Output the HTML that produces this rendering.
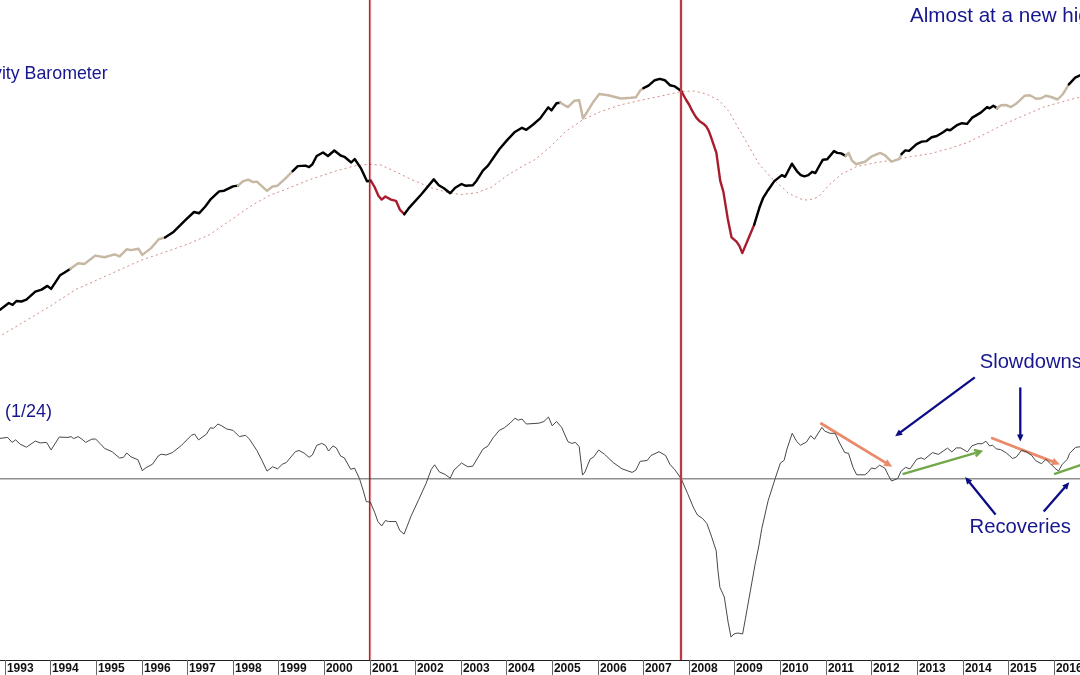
<!DOCTYPE html>
<html><head><meta charset="utf-8"><title>chart</title>
<style>
html,body{margin:0;padding:0;background:#fff;}
body{width:1080px;height:675px;position:relative;overflow:hidden;font-family:"Liberation Sans",sans-serif;}
.t{position:absolute;white-space:nowrap;color:#16168E;line-height:1;}
</style></head><body>
<svg width="1080" height="675" viewBox="0 0 1080 675" style="position:absolute;left:0;top:0">
<line x1="0" y1="478.7" x2="1080" y2="478.7" stroke="#909090" stroke-width="1.6"/>
<polyline points="-2.0,337.5 0.0,336.2 25.2,321.1 50.4,306.0 75.6,289.6 100.8,278.3 125.9,267.0 141.0,260.2 163.7,252.6 188.9,243.6 209.0,235.0 226.7,222.9 251.9,205.3 270.0,195.2 285.2,189.5 310.4,179.4 335.6,171.1 355.7,165.6 369.6,164.3 380.9,165.1 396.0,171.9 411.1,179.4 431.3,187.7 448.9,192.8 461.5,194.5 476.6,192.8 491.7,187.0 506.9,175.6 522.0,166.5 535.1,159.5 550.2,146.9 565.3,131.8 583.0,119.7 600.6,111.6 620.8,104.8 640.9,100.3 661.1,96.0 681.2,91.5 693.8,91.0 706.4,94.0 719.0,100.3 729.1,111.6 739.1,129.3 749.2,146.9 759.3,164.5 771.9,178.4 782.0,187.2 788.2,193.2 800.8,199.0 808.3,200.3 818.4,197.0 828.5,185.6 841.1,174.3 856.2,166.8 876.3,162.5 895.1,159.9 910.2,156.7 930.4,153.7 950.5,148.1 968.2,142.3 985.8,133.5 1005.9,123.4 1026.1,114.6 1043.7,107.1 1061.4,102.0 1081.0,96.8" fill="none" stroke="#C05E52" stroke-opacity="0.72" stroke-width="1" stroke-dasharray="2 3.1"/>
<line x1="820.4" y1="423.0" x2="886.2" y2="463.1" stroke="#EA8A6A" stroke-width="2.8"/><polygon points="892.2,466.7 883.4,465.7 887.3,459.3" fill="#EA8A6A"/>
<line x1="991.1" y1="437.8" x2="1053.5" y2="461.9" stroke="#EA8A6A" stroke-width="2.8"/><polygon points="1060.0,464.4 1051.2,465.0 1053.9,458.0" fill="#EA8A6A"/>
<polyline points="-1.0,438.4 0.0,438.4 7.6,437.4 12.1,442.4 15.6,439.9 20.2,444.2 26.4,447.2 35.3,441.1 40.3,442.9 46.6,442.4 51.1,449.9 59.2,437.1 68.0,437.4 71.0,436.6 73.6,438.6 78.1,436.6 81.9,439.1 85.6,442.4 91.9,439.1 95.7,439.1 100.8,444.2 104.5,448.4 112.1,451.7 119.6,458.0 123.4,457.5 126.7,453.0 131.0,456.8 138.0,459.8 142.3,470.6 146.1,467.6 152.4,464.3 158.2,456.0 161.2,454.2 166.2,455.0 172.5,452.5 181.4,445.4 191.4,435.3 194.7,434.1 198.5,439.9 206.5,434.1 210.3,427.8 213.6,428.3 217.9,424.0 221.7,425.8 226.7,429.0 233.0,430.3 239.3,436.6 245.6,435.3 249.4,439.1 256.9,450.5 262.0,460.5 267.0,471.1 272.6,466.8 277.6,468.8 282.2,464.3 286.4,462.5 295.3,451.7 299.0,450.5 304.1,453.0 309.1,457.3 312.4,455.0 316.7,445.4 321.7,443.4 325.5,445.4 328.5,451.0 333.0,445.9 336.3,447.9 340.6,456.0 344.4,458.0 350.7,469.3 354.5,468.1 359.5,478.7 363.3,490.8 366.3,501.6 370.3,502.1 374.6,512.2 377.9,521.5 381.7,526.0 385.4,520.5 388.5,521.5 396.0,521.5 399.8,530.6 404.1,534.1 411.1,516.0 418.7,499.6 426.2,483.2 431.3,469.3 434.6,464.8 439.3,471.9 445.1,474.4 450.2,478.2 454.0,470.1 461.5,463.0 467.8,466.8 472.8,466.1 482.9,449.2 488.0,445.9 493.0,437.9 499.3,430.3 504.3,427.8 510.6,422.7 514.9,418.2 518.2,420.2 522.0,419.0 526.3,424.0 538.9,423.2 543.9,421.5 548.5,417.0 552.2,425.8 556.5,421.5 561.6,427.3 567.9,441.6 571.6,443.4 575.4,442.4 579.2,446.7 582.5,475.1 585.0,471.9 590.0,459.3 593.8,456.8 598.6,450.0 604.4,454.2 613.2,462.5 622.0,468.8 632.1,472.4 635.9,470.1 640.2,461.3 647.2,460.5 651.0,455.5 659.0,451.7 665.6,455.5 669.9,464.3 674.9,469.8 681.2,478.7 687.5,493.3 693.8,508.4 697.6,515.2 702.6,518.5 706.9,523.5 711.4,536.1 716.2,550.8 717.9,570.1 719.9,587.4 724.3,597.0 728.1,622.1 731.0,637.1 733.9,634.0 737.8,633.0 742.6,634.0 745.5,618.2 750.3,591.2 755.1,564.3 759.0,545.0 761.8,528.5 768.1,500.8 775.2,478.5 780.4,463.0 784.1,460.4 787.0,448.9 792.2,433.3 796.7,441.5 800.4,445.2 806.3,442.2 810.7,435.6 814.4,439.3 821.9,427.4 824.8,431.1 830.0,433.3 835.2,433.3 839.6,443.0 844.8,452.6 848.5,453.3 853.0,467.4 856.7,474.8 864.8,474.8 867.8,472.6 871.5,467.9 875.2,468.9 879.6,465.2 884.8,468.1 888.5,475.6 891.5,481.0 897.7,478.5 901.1,471.1 905.6,467.4 910.0,468.9 916.7,459.3 921.1,457.8 924.4,459.3 932.6,452.6 938.5,454.4 947.4,448.1 951.9,451.9 956.3,447.9 960.7,447.9 967.4,451.9 971.9,445.9 977.8,443.7 982.2,443.7 985.9,441.2 989.6,445.9 992.6,445.2 996.3,448.9 1000.7,449.6 1005.9,452.6 1012.6,458.5 1016.3,457.0 1021.5,450.4 1026.7,451.9 1031.9,455.6 1035.6,460.7 1041.5,463.7 1045.9,459.3 1050.4,463.7 1054.8,468.1 1058.5,471.1 1062.2,464.4 1067.4,459.3 1069.6,453.3 1075.6,447.4 1081.0,446.6" fill="none" stroke="#484848" stroke-width="1" stroke-linejoin="round"/>
<polyline points="0.0,309.8 8.8,303.0 12.6,304.8 16.4,301.0 21.4,301.5 26.4,299.7 35.3,291.7 41.6,289.6 47.4,285.9 51.1,288.9 60.0,275.3 64.2,272.8 70.5,268.7" fill="none" stroke="#000000" stroke-width="2.45" stroke-linejoin="round" stroke-linecap="round"/>
<polyline points="70.5,268.7 78.1,263.2 84.4,264.0 95.2,255.6 104.5,257.2 114.6,254.4 119.6,256.4 126.7,249.3 131.0,250.1 138.5,248.8 142.3,254.9 151.1,248.1 158.7,239.3 165.0,237.5" fill="none" stroke="#C7B8A3" stroke-width="2.45" stroke-linejoin="round" stroke-linecap="round"/>
<polyline points="165.0,237.5 173.8,231.7 185.1,220.4 194.0,212.0 199.0,213.3 205.3,206.5 210.3,199.7 219.1,191.4 224.2,190.7 233.0,186.4 238.0,185.6" fill="none" stroke="#000000" stroke-width="2.45" stroke-linejoin="round" stroke-linecap="round"/>
<polyline points="238.0,185.6 243.0,181.3 248.1,179.6 253.1,182.1 256.9,181.6 267.0,190.8 272.6,186.5 277.6,185.7 285.2,178.7 292.7,171.1" fill="none" stroke="#C7B8A3" stroke-width="2.45" stroke-linejoin="round" stroke-linecap="round"/>
<polyline points="292.7,171.1 297.8,166.1 305.3,165.6 309.1,167.1 312.4,164.3 316.7,156.0 323.0,152.5 328.0,156.0 334.3,150.5 340.6,155.5 344.4,156.8 351.2,162.5 354.7,159.0 360.8,168.1 367.0,181.2 370.8,180.7" fill="none" stroke="#000000" stroke-width="2.45" stroke-linejoin="round" stroke-linecap="round"/>
<polyline points="370.8,180.7 374.6,187.0 378.4,195.8 381.7,199.6 385.4,196.5 391.0,199.6 396.0,200.8 399.8,209.6 404.3,214.2" fill="none" stroke="#A81D2E" stroke-width="2.4" stroke-linejoin="round" stroke-linecap="round"/>
<polyline points="404.3,214.2 408.6,208.4 421.2,194.5 433.8,179.4 438.8,185.2 443.9,188.2 450.2,193.3 455.2,187.7 461.5,184.0 465.3,185.7 472.8,185.2 476.6,180.7 482.9,170.6 488.0,165.6 499.3,149.2 506.9,140.4 514.4,132.3 522.0,127.8 526.3,129.8 532.6,125.0 540.2,118.4 548.2,107.4 551.5,110.4 556.5,103.3 560.3,102.8" fill="none" stroke="#000000" stroke-width="2.45" stroke-linejoin="round" stroke-linecap="round"/>
<polyline points="560.3,102.8 567.9,107.1 574.2,100.8 579.2,100.3 583.0,118.4 586.8,112.4 593.0,102.3 599.3,94.0 608.2,95.3 620.8,98.5 630.8,97.8 635.9,97.3 640.4,90.2 643.4,88.2" fill="none" stroke="#C7B8A3" stroke-width="2.45" stroke-linejoin="round" stroke-linecap="round"/>
<polyline points="643.4,88.2 648.5,85.7 654.8,80.2 659.8,78.9 664.8,80.2 669.9,85.2 674.9,86.4 681.2,91.0" fill="none" stroke="#000000" stroke-width="2.45" stroke-linejoin="round" stroke-linecap="round"/>
<polyline points="681.2,91.0 686.2,100.0 689.3,105.0 691.3,109.1 693.8,113.6 696.3,117.6 699.3,120.9 703.4,123.7 706.4,126.7 708.8,131.0 711.3,137.8 716.4,152.9 720.2,180.6 723.4,191.9 727.7,218.4 731.5,237.3 736.5,241.6 739.5,246.1 742.3,253.1 754.2,224.7" fill="none" stroke="#A81D2E" stroke-width="2.4" stroke-linejoin="round" stroke-linecap="round"/>
<polyline points="754.2,224.7 759.2,208.3 763.0,198.2 768.0,190.2 774.3,181.1 781.9,175.1 785.1,176.8 791.9,163.7 797.0,171.3 800.8,175.1 804.5,176.3 808.3,175.1 812.1,171.8 815.4,173.0 818.4,167.5 822.9,159.7 827.2,159.2 834.0,151.1 837.3,152.9 841.1,153.4 845.6,155.9" fill="none" stroke="#000000" stroke-width="2.45" stroke-linejoin="round" stroke-linecap="round"/>
<polyline points="845.6,155.9 848.6,152.9 851.9,160.5 856.2,164.2 865.0,161.7 871.3,156.7 880.1,152.9 885.1,155.4 891.4,161.7 899.0,159.2 901.5,154.2" fill="none" stroke="#C7B8A3" stroke-width="2.45" stroke-linejoin="round" stroke-linecap="round"/>
<polyline points="901.5,154.2 905.3,150.4 909.1,150.9 916.6,144.1 921.7,141.6 926.7,141.1 931.7,137.3 936.8,136.0 943.1,132.2 946.9,129.5 950.1,130.2 956.9,125.2 962.0,123.2 967.0,123.9 971.9,117.9 980.8,112.6 987.1,107.1 989.6,108.3 993.4,105.8 997.1,108.3" fill="none" stroke="#000000" stroke-width="2.45" stroke-linejoin="round" stroke-linecap="round"/>
<polyline points="997.1,108.3 1000.9,105.3 1005.9,105.0 1011.0,107.1 1016.0,103.8 1024.8,95.7 1029.9,95.2 1036.2,98.7 1041.2,98.2 1045.7,95.7 1051.3,97.0 1057.6,99.5 1062.6,94.5 1068.9,84.4" fill="none" stroke="#C7B8A3" stroke-width="2.45" stroke-linejoin="round" stroke-linecap="round"/>
<polyline points="1068.9,84.4 1075.2,77.6 1081.0,74.8" fill="none" stroke="#000000" stroke-width="2.45" stroke-linejoin="round" stroke-linecap="round"/>
<rect x="369" y="0" width="1" height="660" fill="#8A3438"/><rect x="370" y="0" width="1" height="660" fill="#DA8894" style="mix-blend-mode:multiply"/><rect x="371" y="0" width="1" height="660" fill="#FCECEF" style="mix-blend-mode:multiply"/><rect x="368" y="0" width="1" height="660" fill="#FBE6E2" style="mix-blend-mode:multiply"/>
<rect x="680" y="0" width="2" height="660" fill="#B83A4A"/><rect x="679" y="0" width="1" height="660" fill="#F8DCE2" style="mix-blend-mode:multiply"/><rect x="682" y="0" width="1" height="660" fill="#FBE4E2" style="mix-blend-mode:multiply"/>
<line x1="902.6" y1="474.1" x2="979.2" y2="451.9" stroke="#72A84A" stroke-width="2.5"/><polyline points="975.7,456.3 980.6,451.5 973.9,450.0" fill="none" stroke="#72A84A" stroke-width="2.5" stroke-linejoin="miter"/>
<line x1="1054.1" y1="474.1" x2="1082" y2="464.6" stroke="#72A84A" stroke-width="2.5"/>
<line x1="974.8" y1="377.3" x2="900.0" y2="432.7" stroke="#0C0C86" stroke-width="2.3"/><polygon points="895.2,436.3 898.9,429.5 902.8,434.7" fill="#0C0C86"/>
<line x1="1020.3" y1="387.4" x2="1020.3" y2="435.5" stroke="#0C0C86" stroke-width="2.3"/><polygon points="1020.3,441.5 1017.0,434.5 1023.5,434.5" fill="#0C0C86"/>
<line x1="995.6" y1="514.6" x2="969.0" y2="481.8" stroke="#0C0C86" stroke-width="2.3"/><polygon points="965.2,477.1 972.1,480.5 967.1,484.6" fill="#0C0C86"/>
<line x1="1043.7" y1="511.5" x2="1065.3" y2="486.8" stroke="#0C0C86" stroke-width="2.3"/><polygon points="1069.3,482.3 1067.1,489.7 1062.2,485.4" fill="#0C0C86"/>
<line x1="0" y1="660.5" x2="1080" y2="660.5" stroke="#222" stroke-width="1"/>
<line x1="5.50" y1="660" x2="5.50" y2="675" stroke="#666" stroke-width="1"/>
<text x="6.95" y="671.5" font-family="Liberation Sans, sans-serif" font-weight="bold" font-size="12" fill="#111">1993</text>
<line x1="50.50" y1="660" x2="50.50" y2="675" stroke="#666" stroke-width="1"/>
<text x="51.95" y="671.5" font-family="Liberation Sans, sans-serif" font-weight="bold" font-size="12" fill="#111">1994</text>
<line x1="96.50" y1="660" x2="96.50" y2="675" stroke="#666" stroke-width="1"/>
<text x="97.95" y="671.5" font-family="Liberation Sans, sans-serif" font-weight="bold" font-size="12" fill="#111">1995</text>
<line x1="142.50" y1="660" x2="142.50" y2="675" stroke="#666" stroke-width="1"/>
<text x="143.95" y="671.5" font-family="Liberation Sans, sans-serif" font-weight="bold" font-size="12" fill="#111">1996</text>
<line x1="187.50" y1="660" x2="187.50" y2="675" stroke="#666" stroke-width="1"/>
<text x="188.95" y="671.5" font-family="Liberation Sans, sans-serif" font-weight="bold" font-size="12" fill="#111">1997</text>
<line x1="233.50" y1="660" x2="233.50" y2="675" stroke="#666" stroke-width="1"/>
<text x="234.95" y="671.5" font-family="Liberation Sans, sans-serif" font-weight="bold" font-size="12" fill="#111">1998</text>
<line x1="278.50" y1="660" x2="278.50" y2="675" stroke="#666" stroke-width="1"/>
<text x="279.95" y="671.5" font-family="Liberation Sans, sans-serif" font-weight="bold" font-size="12" fill="#111">1999</text>
<line x1="324.50" y1="660" x2="324.50" y2="675" stroke="#666" stroke-width="1"/>
<text x="325.95" y="671.5" font-family="Liberation Sans, sans-serif" font-weight="bold" font-size="12" fill="#111">2000</text>
<line x1="370.50" y1="660" x2="370.50" y2="675" stroke="#666" stroke-width="1"/>
<text x="371.95" y="671.5" font-family="Liberation Sans, sans-serif" font-weight="bold" font-size="12" fill="#111">2001</text>
<line x1="415.50" y1="660" x2="415.50" y2="675" stroke="#666" stroke-width="1"/>
<text x="416.95" y="671.5" font-family="Liberation Sans, sans-serif" font-weight="bold" font-size="12" fill="#111">2002</text>
<line x1="461.50" y1="660" x2="461.50" y2="675" stroke="#666" stroke-width="1"/>
<text x="462.95" y="671.5" font-family="Liberation Sans, sans-serif" font-weight="bold" font-size="12" fill="#111">2003</text>
<line x1="506.50" y1="660" x2="506.50" y2="675" stroke="#666" stroke-width="1"/>
<text x="507.95" y="671.5" font-family="Liberation Sans, sans-serif" font-weight="bold" font-size="12" fill="#111">2004</text>
<line x1="552.50" y1="660" x2="552.50" y2="675" stroke="#666" stroke-width="1"/>
<text x="553.95" y="671.5" font-family="Liberation Sans, sans-serif" font-weight="bold" font-size="12" fill="#111">2005</text>
<line x1="598.50" y1="660" x2="598.50" y2="675" stroke="#666" stroke-width="1"/>
<text x="599.95" y="671.5" font-family="Liberation Sans, sans-serif" font-weight="bold" font-size="12" fill="#111">2006</text>
<line x1="643.50" y1="660" x2="643.50" y2="675" stroke="#666" stroke-width="1"/>
<text x="644.95" y="671.5" font-family="Liberation Sans, sans-serif" font-weight="bold" font-size="12" fill="#111">2007</text>
<line x1="689.50" y1="660" x2="689.50" y2="675" stroke="#666" stroke-width="1"/>
<text x="690.95" y="671.5" font-family="Liberation Sans, sans-serif" font-weight="bold" font-size="12" fill="#111">2008</text>
<line x1="734.50" y1="660" x2="734.50" y2="675" stroke="#666" stroke-width="1"/>
<text x="735.95" y="671.5" font-family="Liberation Sans, sans-serif" font-weight="bold" font-size="12" fill="#111">2009</text>
<line x1="780.50" y1="660" x2="780.50" y2="675" stroke="#666" stroke-width="1"/>
<text x="781.95" y="671.5" font-family="Liberation Sans, sans-serif" font-weight="bold" font-size="12" fill="#111">2010</text>
<line x1="826.50" y1="660" x2="826.50" y2="675" stroke="#666" stroke-width="1"/>
<text x="827.95" y="671.5" font-family="Liberation Sans, sans-serif" font-weight="bold" font-size="12" fill="#111">2011</text>
<line x1="871.50" y1="660" x2="871.50" y2="675" stroke="#666" stroke-width="1"/>
<text x="872.95" y="671.5" font-family="Liberation Sans, sans-serif" font-weight="bold" font-size="12" fill="#111">2012</text>
<line x1="917.50" y1="660" x2="917.50" y2="675" stroke="#666" stroke-width="1"/>
<text x="918.95" y="671.5" font-family="Liberation Sans, sans-serif" font-weight="bold" font-size="12" fill="#111">2013</text>
<line x1="963.50" y1="660" x2="963.50" y2="675" stroke="#666" stroke-width="1"/>
<text x="964.95" y="671.5" font-family="Liberation Sans, sans-serif" font-weight="bold" font-size="12" fill="#111">2014</text>
<line x1="1008.50" y1="660" x2="1008.50" y2="675" stroke="#666" stroke-width="1"/>
<text x="1009.95" y="671.5" font-family="Liberation Sans, sans-serif" font-weight="bold" font-size="12" fill="#111">2015</text>
<line x1="1054.50" y1="660" x2="1054.50" y2="675" stroke="#666" stroke-width="1"/>
<text x="1055.95" y="671.5" font-family="Liberation Sans, sans-serif" font-weight="bold" font-size="12" fill="#111">2016</text>
<line x1="1099.50" y1="660" x2="1099.50" y2="675" stroke="#666" stroke-width="1"/>
<text x="1100.95" y="671.5" font-family="Liberation Sans, sans-serif" font-weight="bold" font-size="12" fill="#111">2017</text>
</svg>
<div class="t" style="left:-7px;top:65.1px;font-size:17.8px;">vity Barometer</div>
<div class="t" style="left:910px;top:4.5px;font-size:20.6px;">Almost at a new high</div>
<div class="t" style="left:5px;top:402px;font-size:18px;">(1/24)</div>
<div class="t" style="left:979.7px;top:351.2px;font-size:20.2px;">Slowdowns</div>
<div class="t" style="left:969.5px;top:516px;font-size:20.3px;">Recoveries</div>
</body></html>
